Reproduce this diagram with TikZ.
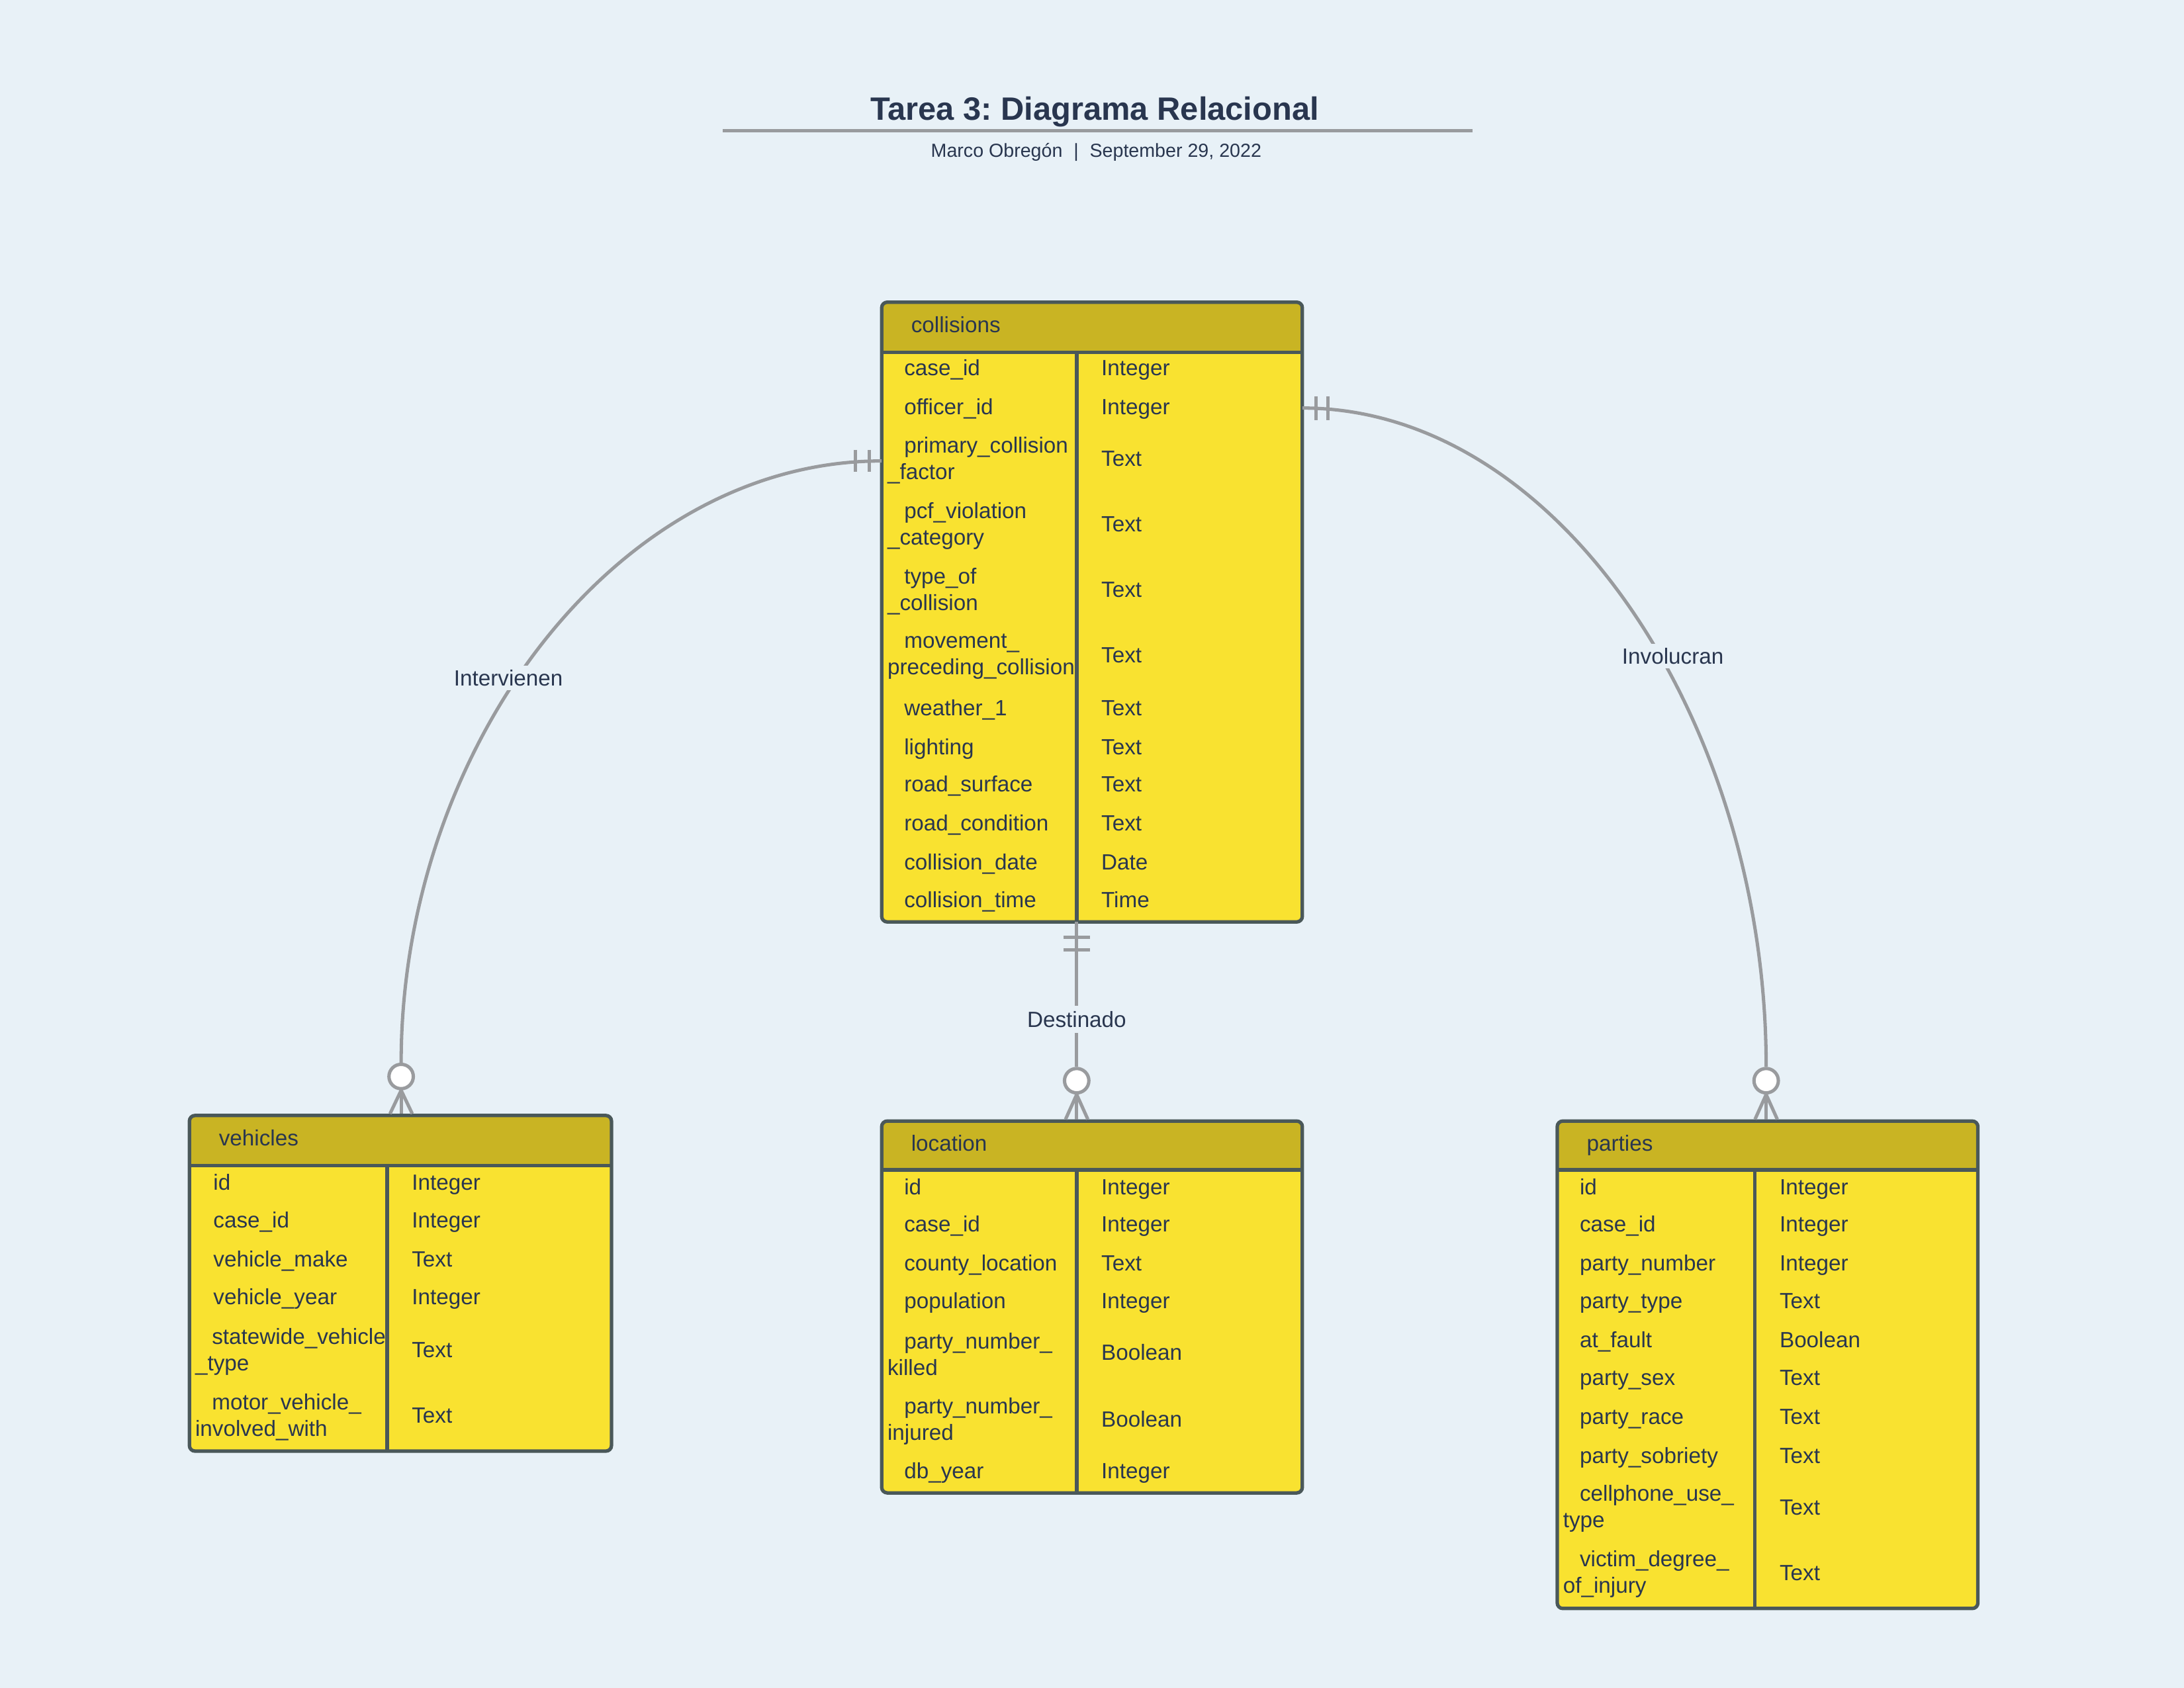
\documentclass[tikz,border=0pt]{standalone}
\usepackage{fontspec}
\setmainfont{Liberation Sans}
\usetikzlibrary{fit,calc}
\frenchspacing
\definecolor{bgc}{HTML}{E8F1F7}
\definecolor{headc}{HTML}{C9B423}
\definecolor{bodyc}{HTML}{F9E230}
\definecolor{bordc}{HTML}{4A5859}
\definecolor{txtc}{HTML}{29364F}
\definecolor{linec}{HTML}{999B9E}

% #1 name, #2 left, #3 right, #4 divider, #5 top, #6 header bottom, #7 bottom, #8 title
\newcommand\ertab[8]{%
  \begin{scope}
    \clip[rounded corners=4pt] (#2,#5) rectangle (#3,#7);
    \fill[bodyc] (#2,#5) rectangle (#3,#7);
    \fill[headc] (#2,#5) rectangle (#3,#6);
  \end{scope}
  \draw[tabline] (#2,#6) -- (#3,#6);
  \draw[tabline] (#4,#6) -- (#4,#7);
  \node[tabframe, fit={(#2,#5) (#3,#7)}] (#1) {};
  \node[cell, anchor=base west] (#1-head) at (#2+21,#5+21.7) {#8};
}
% single-line field: #1 name, #2 left, #3 divider, #4 y, #5 field, #6 type
\newcommand\fld[6]{%
  \node[cell, anchor=base west] (#1n) at (#2+16,#4+5.7) {#5};
  \node[cell, anchor=base west] (#1t) at (#3+17.5,#4+5.7) {#6};
}
% two-line field: #5 first line, #6 second line, #7 type
\newcommand\fldd[7]{%
  \node[cell, anchor=west] (#1n) at (#2+4,#4+1.5) {\hspace*{12pt}#5\\#6};
  \node[cell, anchor=base west] (#1t) at (#3+17.5,#4+5.7) {#7};
}

\begin{document}
\begin{tikzpicture}[x=1pt,y=-1pt,
  cell/.style={inner sep=0pt, text=txtc, font=\fontsize{15.8}{19}\selectfont, align=left},
  tabframe/.style={draw=bordc, line width=2.5pt, rounded corners=4pt, inner sep=0pt},
  tabline/.style={draw=bordc, line width=2.5pt},
  conn/.style={draw=linec, line width=2.4pt},
  circ/.style={circle, draw=linec, fill=white, line width=2.4pt, minimum size=17.5pt, inner sep=0pt},
  lbl/.style={cell, fill=bgc, inner sep=3pt}]

\fill[bgc] (0,0) rectangle (1568,1212);
\useasboundingbox (0,0) rectangle (1568,1212);

% title
\node[anchor=base, inner sep=0pt, text=txtc, font=\bfseries\fontsize{23.2}{28}\selectfont] (title) at (786,86.3) {Tarea 3: Diagrama Relacional};
\draw[draw=linec, line width=2.5pt] (519,94) -- (1057,94);
\node[anchor=base, inner sep=0pt, text=txtc, font=\fontsize{13.6}{16}\selectfont] (subtitle) at (787,113) {Marco Obregón\hspace{8pt}|\hspace{8pt}September 29, 2022};

% collisions
\ertab{collisions}{633}{935}{773}{217}{253}{662}{collisions}
\fld{c1}{633}{773}{264}{case\_id}{Integer}
\fld{c2}{633}{773}{292}{officer\_id}{Integer}
\fldd{c3}{633}{773}{329}{primary\_collision}{\_factor}{Text}
\fldd{c4}{633}{773}{376}{pcf\_violation}{\_category}{Text}
\fldd{c5}{633}{773}{423}{type\_of}{\_collision}{Text}
\fldd{c6}{633}{773}{470}{movement\_}{preceding\_collision}{Text}
\fld{c7}{633}{773}{508}{weather\_1}{Text}
\fld{c8}{633}{773}{536}{lighting}{Text}
\fld{c9}{633}{773}{563}{road\_surface}{Text}
\fld{c10}{633}{773}{591}{road\_condition}{Text}
\fld{c11}{633}{773}{619}{collision\_date}{Date}
\fld{c12}{633}{773}{646}{collision\_time}{Time}

% vehicles
\ertab{vehicles}{136}{439}{278}{801}{837}{1042}{vehicles}
\fld{v1}{137}{278}{849}{id}{Integer}
\fld{v2}{137}{278}{876}{case\_id}{Integer}
\fld{v3}{137}{278}{904}{vehicle\_make}{Text}
\fld{v4}{137}{278}{931}{vehicle\_year}{Integer}
\fldd{v5}{136}{278}{969}{statewide\_vehicle}{\_type}{Text}
\fldd{v6}{136}{278}{1016}{motor\_vehicle\_}{involved\_with}{Text}

% location
\ertab{location}{633}{935}{773}{805}{840}{1072}{location}
\fld{l1}{633}{773}{852}{id}{Integer}
\fld{l2}{633}{773}{879}{case\_id}{Integer}
\fld{l3}{633}{773}{907}{county\_location}{Text}
\fld{l4}{633}{773}{934}{population}{Integer}
\fldd{l5}{633}{773}{971}{party\_number\_}{killed}{Boolean}
\fldd{l6}{633}{773}{1019}{party\_number\_}{injured}{Boolean}
\fld{l7}{633}{773}{1056}{db\_year}{Integer}

% parties
\ertab{parties}{1118}{1420}{1260}{805}{840}{1155}{parties}
\fld{p1}{1118}{1260}{852}{id}{Integer}
\fld{p2}{1118}{1260}{879}{case\_id}{Integer}
\fld{p3}{1118}{1260}{907}{party\_number}{Integer}
\fld{p4}{1118}{1260}{934}{party\_type}{Text}
\fld{p5}{1118}{1260}{962}{at\_fault}{Boolean}
\fld{p6}{1118}{1260}{989}{party\_sex}{Text}
\fld{p7}{1118}{1260}{1017}{party\_race}{Text}
\fld{p8}{1118}{1260}{1045}{party\_sobriety}{Text}
\fldd{p9}{1118}{1260}{1082}{cellphone\_use\_}{type}{Text}
\fldd{p10}{1118}{1260}{1129}{victim\_degree\_}{of\_injury}{Text}

% attachment points and circles
\coordinate (cl) at (633,331);
\coordinate (cr) at (935,293);
\coordinate (cb) at (773,662);
\node[circ] (vc) at (288,773) {};
\node[circ] (lc) at (773,776) {};
\node[circ] (pc) at (1268,776) {};

% Intervienen
\draw[conn] (cl) .. controls (441,331) and (288,539) .. (vc.north);
\draw[conn] ($(cl)+(-19,-8)$) -- ++(0,16);
\draw[conn] ($(cl)+(-9,-8)$) -- ++(0,16);
\draw[conn] (vc.south) -- (vc.south |- vehicles.north);
\draw[conn] (vc.south) -- ($(vc.south |- vehicles.north)+(-8,0)$);
\draw[conn] (vc.south) -- ($(vc.south |- vehicles.north)+(8,0)$);
\node[lbl] (lab1) at (365,487) {Intervienen};

% Involucran
\draw[conn] (cr) .. controls (1120,293) and (1268,520) .. (pc.north);
\draw[conn] ($(cr)+(10,-8.5)$) -- ++(0,17);
\draw[conn] ($(cr)+(18.5,-8.5)$) -- ++(0,17);
\draw[conn] (pc.south) -- (pc.south |- parties.north);
\draw[conn] (pc.south) -- ($(pc.south |- parties.north)+(-8,0)$);
\draw[conn] (pc.south) -- ($(pc.south |- parties.north)+(8,0)$);
\node[lbl] (lab2) at (1201,471) {Involucran};

% Destinado
\draw[conn] (cb) -- (lc.north);
\draw[conn] ($(cb)+(-9.5,11)$) -- ++(19,0);
\draw[conn] ($(cb)+(-9.5,20)$) -- ++(19,0);
\draw[conn] (lc.south) -- (lc.south |- location.north);
\draw[conn] (lc.south) -- ($(lc.south |- location.north)+(-8,0)$);
\draw[conn] (lc.south) -- ($(lc.south |- location.north)+(8,0)$);
\node[lbl, inner sep=4pt] (lab3) at (773,732) {Destinado};

\end{tikzpicture}
\end{document}
